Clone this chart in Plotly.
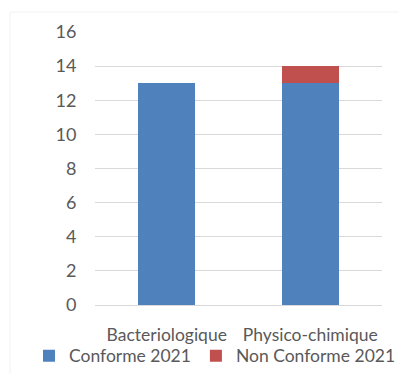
import plotly.graph_objects as go

categories = ["Bacteriologique", "Physico-chimique"]
conforme_2021 = [13, 13]
non_conforme_2021 = [0, 1]
y_ticks = [0, 2, 4, 6, 8, 10, 12, 14, 16]

font_family = "Lato, 'Open Sans', sans-serif"
text_color = "#595959"

fig = go.Figure()
fig.add_trace(go.Bar(
    x=categories, y=conforme_2021, name="Conforme 2021",
    marker=dict(color="#4F81BD", line=dict(width=0)), width=0.4,
))
fig.add_trace(go.Bar(
    x=categories, y=non_conforme_2021, name="Non Conforme 2021",
    marker=dict(color="#C0504D", line=dict(width=0)), width=0.4,
))

fig.update_layout(
    barmode="stack",
    width=399, height=374,
    margin=dict(l=95, r=17, t=32, b=69, autoexpand=False),
    paper_bgcolor="white", plot_bgcolor="white",
    font=dict(family=font_family, size=17.5, color=text_color),
    showlegend=True,
    legend=dict(
        orientation="h", x=-0.23, xanchor="left",
        y=-0.12, yanchor="top", bgcolor="rgba(0,0,0,0)",
        font=dict(size=17.5, color=text_color), itemwidth=30,
        traceorder="normal", tracegroupgap=0,
    ),
    xaxis=dict(
        showgrid=False, showline=True, linecolor="#D9D9D9", linewidth=1,
        ticks="outside", ticklen=14, tickcolor="white",
        tickfont=dict(size=17.5, color=text_color),
    ),
    yaxis=dict(
        range=[0, 16], tickvals=y_ticks, showgrid=True,
        gridcolor="#D9D9D9", gridwidth=1, zeroline=False, showline=False,
        ticks="outside", ticklen=14, tickcolor="white",
        tickfont=dict(size=18, color=text_color),
    ),
    shapes=[dict(
        type="rect", xref="paper", yref="paper",
        x0=-85 / 287, x1=1.2, y0=-0.4, y1=(305 - 12) / 273,
        line=dict(color="#F2F2F2", width=1), layer="below",
    )],
)

fig.write_html("out.html")
